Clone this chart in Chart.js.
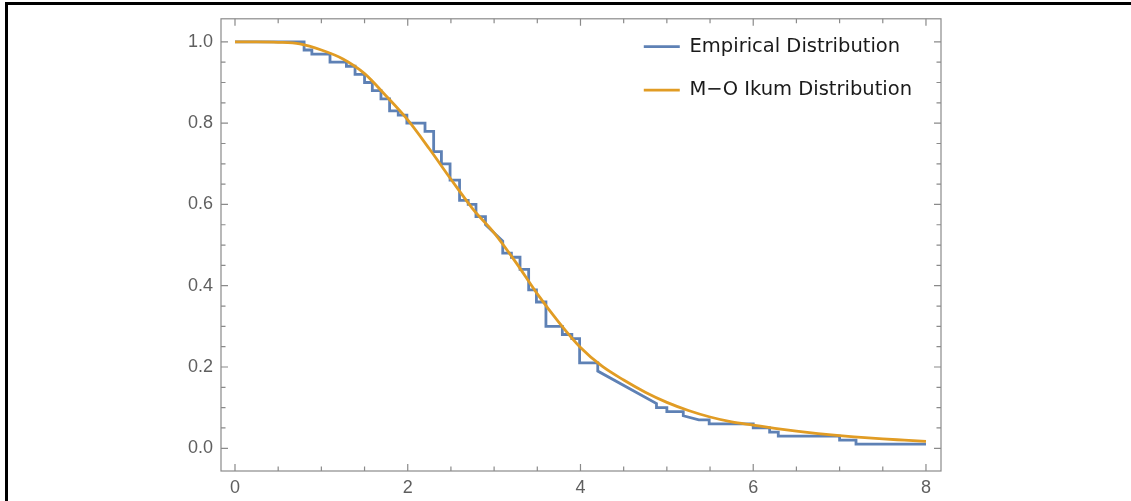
<!DOCTYPE html>
<html lang="en">
<head>
  <meta charset="UTF-8" />
  <title>Empirical vs M-O Ikum Distribution</title>
  <style>
    * { box-sizing: border-box; margin: 0; padding: 0; }
    body { background: #fff; width: 1131px; height: 501px; overflow: hidden; position: relative; }
    #chart { position: absolute; left: 0; top: 0; }
    .edge { position: absolute; background: #000; }
    #edgeTop { left: 5px; top: 2px; width: 1126px; height: 3px; }
    #edgeLeft { left: 5px; top: 2px; width: 3px; height: 499px; }
  </style>
  <script src="https://cdn.jsdelivr.net/npm/chart.js"></script>
</head>
<body>
  <canvas id="chart" width="1131" height="501"></canvas>
  <div class="edge" id="edgeTop"></div>
  <div class="edge" id="edgeLeft"></div>

  <script>
    // empirical survival curve, vertices
    const empX = [0, 0.80, 0.80, 0.89, 0.89, 1.10, 1.10, 1.29, 1.29, 1.39, 1.39, 1.50, 1.50, 1.59, 1.59,
      1.69, 1.69, 1.79, 1.79, 1.89, 1.89, 1.99, 1.99, 2.20, 2.20, 2.30, 2.30, 2.39, 2.39, 2.49, 2.49,
      2.60, 2.60, 2.70, 2.70, 2.79, 2.79, 2.90, 2.90, 3.10, 3.10, 3.20, 3.20, 3.30, 3.30, 3.40, 3.40,
      3.49, 3.49, 3.60, 3.60, 3.79, 3.79, 3.90, 3.90, 3.99, 3.99, 4.20, 4.20, 4.88, 4.88, 5.00, 5.00,
      5.19, 5.19, 5.37, 5.49, 5.49, 6.00, 6.00, 6.19, 6.19, 6.29, 6.29, 7.00, 7.00, 7.19, 7.19, 8.00];
    const empY = [1.00, 1.00, 0.98, 0.98, 0.97, 0.97, 0.95, 0.95, 0.94, 0.94, 0.92, 0.92, 0.90, 0.90, 0.88,
      0.88, 0.86, 0.86, 0.83, 0.83, 0.82, 0.82, 0.80, 0.80, 0.78, 0.78, 0.73, 0.73, 0.70, 0.70, 0.66,
      0.66, 0.61, 0.61, 0.60, 0.60, 0.57, 0.57, 0.55, 0.51, 0.48, 0.48, 0.47, 0.47, 0.44, 0.44, 0.39,
      0.39, 0.36, 0.36, 0.30, 0.30, 0.28, 0.28, 0.27, 0.27, 0.21, 0.21, 0.19, 0.11, 0.10, 0.10, 0.09,
      0.09, 0.08, 0.07, 0.07, 0.06, 0.06, 0.05, 0.05, 0.04, 0.04, 0.03, 0.03, 0.02, 0.02, 0.01, 0.01];

    // fitted M-O Ikum survival curve
    const fitX = [0, 0.25, 0.5, 0.75, 1.0, 1.25, 1.5, 1.75, 2.0, 2.25, 2.5, 2.75, 3.0, 3.25, 3.5, 3.75,
      4.0, 4.25, 4.5, 4.75, 5.0, 5.25, 5.5, 5.75, 6.0, 6.25, 6.5, 6.75, 7.0, 7.25, 7.5, 7.75, 8.0];
    const fitY = [1.000, 1.000, 0.999, 0.995, 0.980, 0.958, 0.922, 0.867, 0.808, 0.737, 0.662, 0.590,
      0.530, 0.458, 0.380, 0.310, 0.248, 0.202, 0.168, 0.138, 0.113, 0.093, 0.077, 0.065, 0.057,
      0.049, 0.042, 0.036, 0.031, 0.027, 0.023, 0.020, 0.017];

    const xTicks = [0, 2, 4, 6, 8];
    const yTicks = [0, 0.2, 0.4, 0.6, 0.8, 1.0];

    const xMinor = [];
    for (let i = 0; i <= 16; i++) xMinor.push(i * 0.5);
    const yMinor = [];
    for (let i = 0; i <= 20; i++) yMinor.push(Math.round(i * 5) / 100);

    const toPoints = (xs, ys) => xs.map((v, i) => ({ x: v, y: ys[i] }));
    const isMajor = (list, v) => list.some(t => Math.abs(t - v) < 1e-6);

    // Mathematica-like frame with inward ticks on all four sides
    const framePlugin = {
      id: 'frame',
      afterDraw(chart) {
        const { ctx, chartArea: a, scales: { x, y } } = chart;
        ctx.save();
        ctx.strokeStyle = '#8a8a8a';
        ctx.lineWidth = 1.2;
        ctx.strokeRect(a.left, a.top, a.right - a.left, a.bottom - a.top);
        ctx.beginPath();
        xMinor.forEach(v => {
          const px = x.getPixelForValue(v);
          const len = isMajor(xTicks, v) ? 7 : 4.5;
          ctx.moveTo(px, a.bottom); ctx.lineTo(px, a.bottom - len);
          ctx.moveTo(px, a.top); ctx.lineTo(px, a.top + len);
        });
        yMinor.forEach(v => {
          const py = y.getPixelForValue(v);
          const len = isMajor(yTicks, v) ? 7 : 4.5;
          ctx.moveTo(a.left, py); ctx.lineTo(a.left + len, py);
          ctx.moveTo(a.right, py); ctx.lineTo(a.right - len, py);
        });
        ctx.stroke();
        ctx.restore();
      }
    };

    // move the legend to the top-right corner inside the frame
    const legendPlace = {
      id: 'legendPlace',
      beforeDraw(chart) {
        const lg = chart.legend;
        if (!lg) return;
        const w = lg.width;
        lg.left = chart.chartArea.right - w - 19;
        lg.right = lg.left + w;
        lg.top = chart.chartArea.top - 6;
      }
    };

    const tickFont = { family: 'Liberation Sans, Arial, sans-serif', size: 18 };

    const ctx = document.getElementById('chart').getContext('2d');
    const chart = new Chart(ctx, {
      type: 'line',
      data: {
        datasets: [
          {
            label: 'Empirical Distribution',
            data: toPoints(empX, empY),
            borderColor: '#5e81b5',
            backgroundColor: '#5e81b5',
            borderWidth: 2.8,
            pointRadius: 0,
            tension: 0,
            fill: false,
            order: 1
          },
          {
            label: 'M\u2212O Ikum Distribution',
            data: toPoints(fitX, fitY),
            borderColor: '#e19c24',
            backgroundColor: '#e19c24',
            borderWidth: 2.8,
            pointRadius: 0,
            tension: 0.4,
            cubicInterpolationMode: 'monotone',
            fill: false,
            order: 0
          }
        ]
      },
      options: {
        responsive: false,
        animation: false,
        devicePixelRatio: 1,
        layout: { padding: { left: 0, right: 190, top: 7, bottom: 0 } },
        scales: {
          x: {
            type: 'linear',
            min: -0.162,
            max: 8.174,
            grid: { display: false, drawTicks: false },
            border: { display: false },
            afterBuildTicks: s => { s.ticks = xTicks.map(v => ({ value: v })); },
            afterFit: s => { s.height = 30; },
            ticks: {
              color: '#5f5f5f',
              padding: 6,
              font: tickFont,
              callback: v => String(v)
            }
          },
          y: {
            type: 'linear',
            min: -0.0559,
            max: 1.0568,
            grid: { display: false, drawTicks: false },
            border: { display: false },
            afterBuildTicks: s => { s.ticks = yTicks.map(v => ({ value: v })); },
            afterFit: s => { s.width = 221; },
            ticks: {
              color: '#5f5f5f',
              padding: 8,
              font: tickFont,
              callback: v => Number(v).toFixed(1)
            }
          }
        },
        plugins: {
          legend: {
            position: 'chartArea',
            align: 'start',
            labels: {
              usePointStyle: true,
              pointStyle: 'line',
              pointStyleWidth: 36,
              color: '#1a1a1a',
              padding: 24,
              font: { family: 'DejaVu Sans, sans-serif', size: 19.5 },
              sort: (a, b) => a.datasetIndex - b.datasetIndex
            }
          },
          tooltip: { enabled: false }
        }
      },
      plugins: [framePlugin, legendPlace]
    });
  </script>
</body>
</html>
